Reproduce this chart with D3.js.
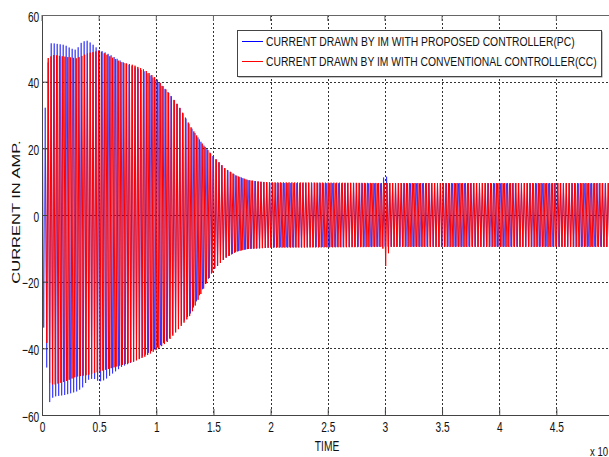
<!DOCTYPE html>
<html>
<head>
<meta charset="utf-8">
<script src="https://cdn.jsdelivr.net/npm/d3@7"></script>
<style>
	body { margin: 0; background: #fff; }
	svg { display: block; font-family: Arial, 'Liberation Sans', sans-serif; }
</style>
</head>
<body>
<div class="chart"></div>
<script>
// ticks
const X_TICKS = [0, 0.5, 1, 1.5, 2, 2.5, 3, 3.5, 4, 4.5]
const Y_TICKS = [-60, -40, -20, 0, 20, 40, 60]

// envelope of the PC current (blue)
const PC_TIME = [0, 0.02, 0.04, 0.06, 0.1, 0.2, 0.25, 0.3, 0.35, 0.4, 0.45, 0.5, 0.55, 0.6, 0.7, 0.8, 0.9, 1.0, 1.1, 1.2, 1.3, 1.4, 1.5, 1.6, 1.7, 1.8, 1.9, 2.0, 2.98, 3.0, 3.03, 5.0]
const PC_UPPER = [37, 33, 31, 51.5, 51.5, 51, 50, 49.5, 52, 52.3, 51, 49.5, 48.8, 48, 46, 44.5, 43, 40.5, 37, 32.5, 26.5, 21.5, 17.5, 14, 11.8, 10.5, 10, 9.6, 9.5, 13.5, 9.5, 9.5]
const PC_LOWER = [-30, -35, -45, -56.5, -54.5, -54, -53.5, -53, -52, -49.5, -49, -50, -49.5, -48, -45.5, -44, -42, -40, -37.5, -33.5, -29.5, -22.5, -16.5, -13, -11, -10.2, -10, -9.7, -9.5, -9.5, -9.5, -9.5]

// envelope of the CC current (red)
const CC_TIME = [0, 0.03, 0.05, 0.1, 0.2, 0.3, 0.4, 0.5, 0.6, 0.7, 0.8, 0.9, 1.0, 1.1, 1.2, 1.3, 1.4, 1.5, 1.6, 1.7, 1.8, 1.9, 2.0, 2.98, 3.01, 3.04, 5.0]
const CC_UPPER = [5, 20, 47, 48, 47.5, 47, 48.5, 49.3, 47.5, 45.7, 45, 43.5, 41, 37, 32.5, 26.5, 21.5, 17.5, 14, 11.8, 10.5, 10, 9.8, 9.6, 9.6, 9.6, 9.6]
const CC_LOWER = [-5, -20, -50, -51, -50, -48.5, -48, -47, -46, -45, -44, -42.5, -40.5, -38, -34, -30, -23, -16.5, -13, -11, -10.2, -10, -9.8, -9.6, -16, -9.6, -9.6]

// supply period in the same time units
const PC_PERIOD = 0.0262
const CC_PERIOD = 0.0245

const LEGEND = ['CURRENT DRAWN BY IM WITH PROPOSED CONTROLLER(PC)', 'CURRENT DRAWN BY IM WITH CONVENTIONAL CONTROLLER(CC)']
const LEGEND_WIDTHS = [309, 331]
const COLORS = ['#0000ff', '#ff0000']

const WIDTH = 609
const HEIGHT = 457
const SX = 0.7

const x = d3.scaleLinear().domain([0, 5]).range([42, 613.5])
const y = d3.scaleLinear().domain([-60, 60]).range([415, 15])

function wave(times, upper, lower, period, start) {
	const up = d3.scaleLinear().domain(times).range(upper)
	const lo = d3.scaleLinear().domain(times).range(lower)
	const pts = []
	for (let k = 0; start + k * period / 2 <= 5; k++) {
		const t = start + k * period / 2
		pts.push([t, k % 2 ? lo(t) : up(t)])
	}
	return pts
}

const svg = d3.select('.chart').append('svg')
	.attr('width', WIDTH)
	.attr('height', HEIGHT)

svg.append('defs').append('clipPath').attr('id', 'plot')
	.append('rect')
	.attr('x', x(0)).attr('y', y(60))
	.attr('width', WIDTH - x(0)).attr('height', y(-60) - y(60))

// grid
const grid = svg.append('g').attr('class', 'grid')
	.attr('stroke', '#333').attr('stroke-dasharray', '2,2').attr('stroke-width', 1)

grid.selectAll('.gx').data(X_TICKS.slice(1)).join('line')
	.attr('x1', d => Math.round(x(d)) + 0.5).attr('x2', d => Math.round(x(d)) + 0.5)
	.attr('y1', y(60)).attr('y2', y(-60))

grid.selectAll('.gy').data(Y_TICKS.slice(1, -1)).join('line')
	.attr('y1', d => Math.round(y(d)) + 0.5).attr('y2', d => Math.round(y(d)) + 0.5)
	.attr('x1', x(0)).attr('x2', WIDTH)

// series
const line = d3.line().x(d => x(d[0])).y(d => y(d[1]))
const plot = svg.append('g').attr('clip-path', 'url(#plot)')

plot.append('path')
	.attr('d', line(wave(PC_TIME, PC_UPPER, PC_LOWER, PC_PERIOD, 0.002)))
	.attr('fill', 'none').attr('stroke', COLORS[0]).attr('stroke-width', 0.6)

plot.append('path')
	.attr('d', line(wave(CC_TIME, CC_UPPER, CC_LOWER, CC_PERIOD, 0.03)))
	.attr('fill', 'none').attr('stroke', COLORS[1]).attr('stroke-width', 1)

// axes
const xAxis = svg.append('g')
	.attr('transform', `translate(0, ${y(-60)})`)
	.call(d3.axisBottom(x).tickValues(X_TICKS).tickFormat(d3.format('')).tickSizeInner(-6).tickSizeOuter(0).tickPadding(7))

const yAxis = svg.append('g')
	.attr('transform', `translate(${x(0)}, 0)`)
	.call(d3.axisLeft(y).tickValues(Y_TICKS).tickSizeInner(-6).tickSizeOuter(0))

svg.selectAll('.domain').attr('stroke', '#444')
svg.selectAll('.tick line').attr('stroke', '#444')
svg.selectAll('.tick text')
	.attr('fill', '#111')
	.style('font-size', '14.5px')
	.style('font-family', 'Arial, "Liberation Sans", sans-serif')
	.attr('transform', `scale(${SX}, 1)`)

yAxis.selectAll('.tick text').attr('x', -4).attr('dy', '0.42em')

// top border with ticks
svg.append('line')
	.attr('x1', x(0)).attr('x2', WIDTH).attr('y1', y(60) + 0.5).attr('y2', y(60) + 0.5)
	.attr('stroke', '#666')
svg.append('g').selectAll('line').data(X_TICKS).join('line')
	.attr('x1', d => x(d)).attr('x2', d => x(d))
	.attr('y1', y(60)).attr('y2', y(60) + 6)
	.attr('stroke', '#666')

// axis titles
svg.append('text')
	.attr('transform', `translate(327, 451) scale(0.66, 1)`)
	.attr('text-anchor', 'middle')
	.style('font-size', '15.5px')
	.attr('fill', '#111')
	.text('TIME')

svg.append('text')
	.attr('transform', `translate(20, 212) scale(${SX}, 1) rotate(-90)`)
	.attr('text-anchor', 'middle')
	.style('font-size', '16.5px')
	.attr('fill', '#111')
	.text('CURRENT IN AMP.')

svg.append('text')
	.attr('transform', `translate(590, 456) scale(0.8, 1)`)
	.style('font-size', '12px')
	.attr('fill', '#111')
	.text('x 10')

// legend
const legend = svg.append('g').attr('class', 'legend')
legend.append('rect')
	.attr('x', 238.5).attr('y', 31.5).attr('width', 364).attr('height', 46)
	.attr('fill', '#888')
legend.append('rect')
	.attr('x', 237.5).attr('y', 30.5).attr('width', 364).attr('height', 46)
	.attr('fill', '#fff').attr('stroke', '#444')

const item = legend.selectAll('.item').data(LEGEND).join('g')
	.attr('class', 'item')
	.attr('transform', (d, i) => `translate(0, ${41.5 + i * 20})`)

item.append('line')
	.attr('x1', 242).attr('x2', 263)
	.attr('stroke', (d, i) => COLORS[i])

item.append('text')
	.style('font-size', '12.5px')
	.attr('fill', '#111')
	.text(d => d)
	.attr('transform', function(d, i) {
		const w = this.getComputedTextLength()
		return `translate(266, 4.5) scale(${LEGEND_WIDTHS[i] / w}, 1)`
	})
</script>
</body>
</html>
